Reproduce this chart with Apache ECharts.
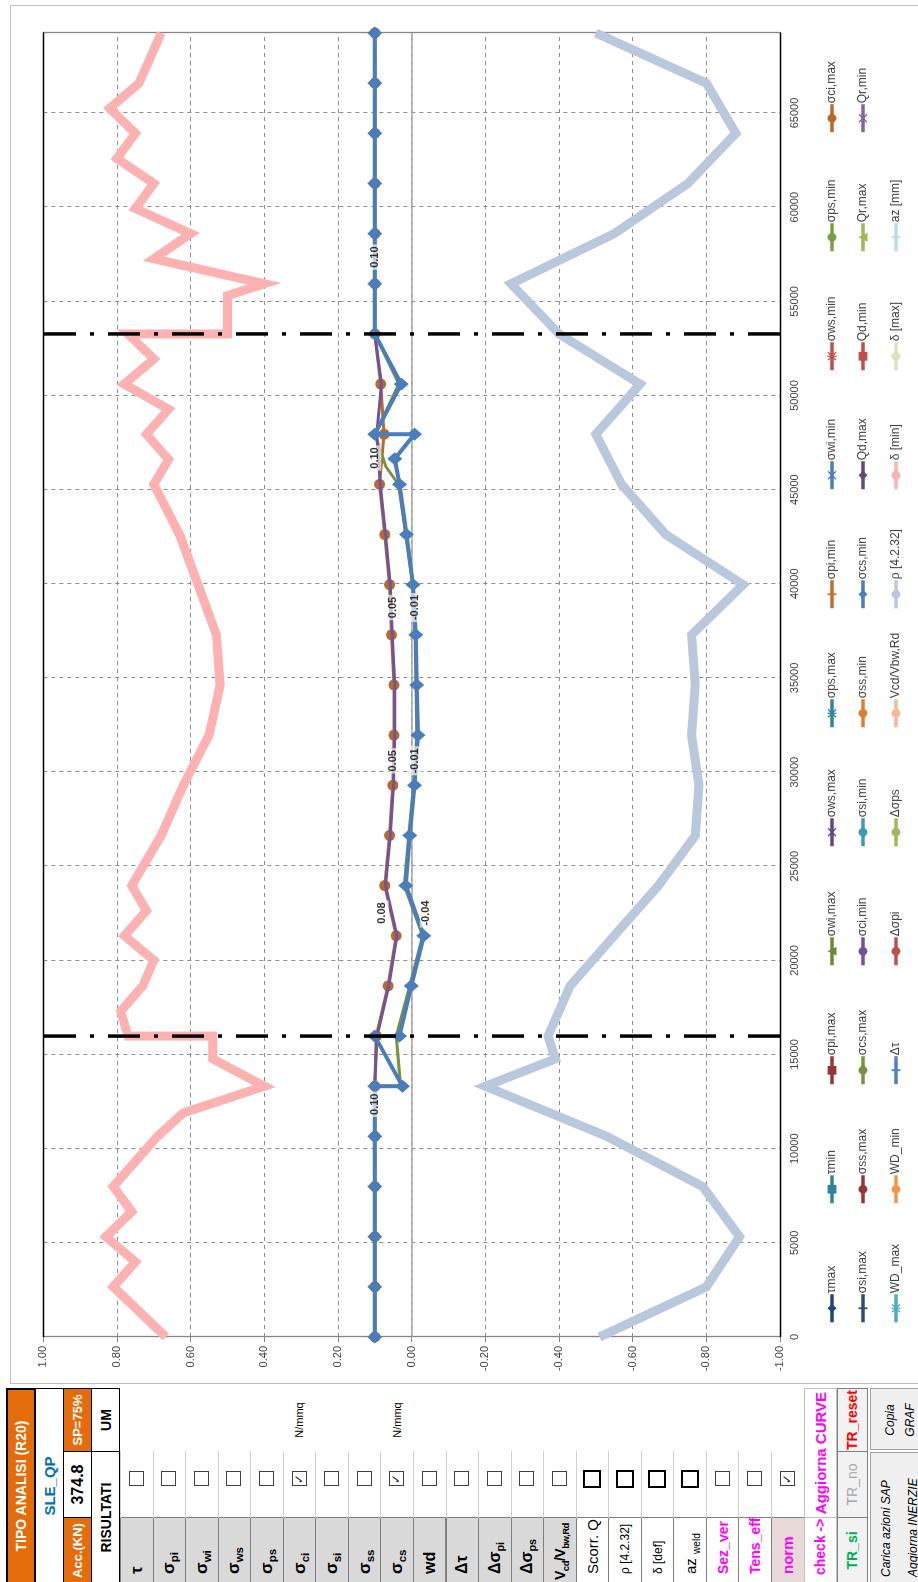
<!DOCTYPE html>
<html><head><meta charset="utf-8">
<script src="https://cdn.jsdelivr.net/npm/echarts@6/dist/echarts.min.js"></script>
<style>
html,body{margin:0;padding:0;width:918px;height:1582px;overflow:hidden;background:#fff;}
#page{position:absolute;left:0;top:0;width:1582px;height:918px;transform-origin:0 0;transform:translate(0,1582px) rotate(-90deg);background:#fff;overflow:hidden;font-family:"Liberation Sans","DejaVu Sans",sans-serif;}
#frame{position:absolute;left:198px;top:10px;width:1379px;height:940px;border:1px solid #BFBFBF;box-sizing:border-box;}
#chart{position:absolute;left:198px;top:10px;width:1379px;height:908px;}
.c{position:absolute;box-sizing:border-box;display:flex;align-items:center;overflow:hidden;white-space:nowrap;}
.cb{position:absolute;box-sizing:border-box;border:1.5px solid #404040;background:#fff;font-size:12px;line-height:12px;text-align:center;color:#222;}
sub{font-size:68%;vertical-align:-4px;line-height:0;}
</style></head>
<body>
<div id="page">
  <div id="table"></div>
  <div id="frame"></div>
  <div id="chart"></div>
</div>
<script>
// ---------------- DATA ----------------
const catTicks = [0, 5000, 10000, 15000, 20000, 25000, 30000, 35000, 40000, 45000, 50000, 55000, 60000, 65000];
const valTicks = [-1.0, -0.8, -0.6, -0.4, -0.2, 0.0, 0.2, 0.4, 0.6, 0.8, 1.0];
const catMax = 69251;
const dividers = [15981, 53270];

// δ [min] (thick pink)
const pinkX = [0, 2664, 3990, 5327, 6660, 7991, 10654, 11900, 13318, 14770, 15981, 15981, 17300, 18645, 20000, 21308, 22640, 23972, 26635, 29299, 31962, 34626, 37289, 39953, 42616, 45280, 46600, 47943, 49270, 50607, 51940, 53270, 53270, 55300, 55934, 57260, 58597, 59930, 61261, 62590, 63924, 65250, 66588, 69251];
const pinkY = [0.667, 0.81, 0.75, 0.83, 0.76, 0.81, 0.69, 0.62, 0.40, 0.54, 0.54, 0.77, 0.79, 0.73, 0.70, 0.78, 0.72, 0.76, 0.68, 0.62, 0.55, 0.52, 0.53, 0.58, 0.63, 0.70, 0.66, 0.72, 0.66, 0.78, 0.70, 0.77, 0.50, 0.50, 0.40, 0.70, 0.60, 0.75, 0.70, 0.80, 0.75, 0.82, 0.74, 0.68];
// ρ [4.2.32] (thick blue-grey)
const greyX = [0, 2664, 5327, 7991, 10654, 13318, 14770, 15981, 18645, 21308, 23972, 26635, 29299, 31962, 34626, 37289, 39953, 42616, 45280, 47943, 50607, 53270, 55934, 58597, 61261, 63924, 66588, 69251];
const greyY = [-0.51, -0.80, -0.89, -0.79, -0.53, -0.20, -0.39, -0.37, -0.43, -0.55, -0.67, -0.77, -0.78, -0.76, -0.77, -0.76, -0.90, -0.69, -0.57, -0.50, -0.62, -0.40, -0.27, -0.55, -0.75, -0.88, -0.80, -0.50];
// σci,max (orange circles)
const ciMaxX = [0, 2664, 5327, 7991, 10654, 13318, 15981, 18645, 21308, 23972, 26635, 29299, 31962, 34626, 37289, 39953, 42616, 45280, 47943, 50607, 53270, 55934, 58597, 61261, 63924, 66588, 69251];
const ciMaxY = [0.10, 0.10, 0.10, 0.10, 0.10, 0.10, 0.096, 0.064, 0.042, 0.073, 0.060, 0.051, 0.048, 0.048, 0.055, 0.060, 0.073, 0.087, 0.075, 0.084, 0.10, 0.10, 0.10, 0.10, 0.10, 0.10, 0.10];
// σci,min (purple)
const ciMinX = [0, 2664, 5327, 7991, 10654, 13318, 15981, 18645, 21308, 23972, 26635, 29299, 31962, 34626, 37289, 39953, 42616, 45280, 47943, 50607, 53270, 55934, 58597, 61261, 63924, 66588, 69251];
const ciMinY = [0.10, 0.10, 0.10, 0.10, 0.10, 0.10, 0.094, 0.062, 0.040, 0.071, 0.058, 0.049, 0.046, 0.046, 0.053, 0.058, 0.071, 0.085, 0.095, 0.082, 0.10, 0.10, 0.10, 0.10, 0.10, 0.10, 0.10];
// σcs,min (blue diamonds)
const csMinX = [0, 2664, 5327, 7991, 10654, 13318, 13318, 15981, 15981, 18645, 21308, 23972, 26635, 29299, 31962, 34626, 37289, 39953, 42616, 45280, 46640, 47943, 47943, 50607, 53270, 55934, 58597, 61261, 63924, 66588, 69251];
const csMinY = [0.10, 0.10, 0.10, 0.10, 0.10, 0.10, 0.025, 0.10, 0.033, 0.001, -0.033, 0.016, 0.005, -0.008, -0.017, -0.014, -0.011, -0.004, 0.014, 0.033, 0.046, -0.008, 0.10, 0.028, 0.10, 0.10, 0.10, 0.10, 0.10, 0.10, 0.10];
// σcs,max (green)
const csMaxX = [13318, 13318, 15981, 18645, 21308, 23972, 26635, 29299, 31962, 34626, 37289, 39953, 42616, 45280, 46230, 47943, 50607, 53270];
const csMaxY = [0.10, 0.03, 0.042, 0.005, -0.030, 0.020, 0.008, -0.005, -0.014, -0.012, -0.009, -0.002, 0.016, 0.036, 0.07, 0.10, 0.035, 0.10];
// data labels
const lblX = [12360, 22514, 22514, 38740, 38740, 30600, 30600, 46680, 57350];
const lblY = [0.10, 0.08, -0.04, 0.05, -0.01, 0.05, -0.01, 0.10, 0.10];

// legend entries (3 rows)
const legendRows = [
  ['τmax', 'τmin', 'σpi,max', 'σwi,max', 'σws,max', 'σps,max', 'σpi,min', 'σwi,min', 'σws,min', 'σps,min', 'σci,max'],
  ['σsi,max', 'σss,max', 'σcs,max', 'σci,min', 'σsi,min', 'σss,min', 'σcs,min', 'Qd,max', 'Qd,min', 'Qr,max', 'Qr,min'],
  ['WD_max', 'WD_min', 'Δτ', 'Δσpi', 'Δσps', 'Vcd/Vbw,Rd', 'ρ [4.2.32]', 'δ [min]', 'δ [max]', 'az [mm]']
];

// table texts
const rowLabels = ['τ', 'σ<sub>pi</sub>', 'σ<sub>wi</sub>', 'σ<sub>ws</sub>', 'σ<sub>ps</sub>', 'σ<sub>ci</sub>', 'σ<sub>si</sub>', 'σ<sub>ss</sub>', 'σ<sub>cs</sub>', 'wd', 'Δτ', 'Δσ<sub>pi</sub>', 'Δσ<sub>ps</sub>', 'V<sub>cd</sub>/V<sub>bw,Rd</sub>', 'Scorr. Q', 'ρ [4.2.32]', 'δ [def]', 'az <sub>weld</sub>', 'Sez_ver', 'Tens_eff', 'norm'];
const rowChecked = [0,0,0,0,0,1,0,0,1,0,0,0,0,0,0,0,0,0,0,0,1];
const rowUnit = ['', '', '', '', '', 'N/mmq', '', '', 'N/mmq', '', '', '', '', '', '', '', '', '', '', '', ''];

// ---------------- STYLES ----------------
const P_X = 'path://M0,1L1,0L5,4L9,0L10,1L6,5L10,9L9,10L5,6L1,10L0,9L4,5Z';
const P_AST = 'path://M0,1L1,0L5,4L9,0L10,1L6,5L10,9L9,10L5,6L1,10L0,9L4,5Z M4.3,0H5.7V10H4.3Z M0,4.3H10V5.7H0Z';
const P_PLUS = 'path://M4,0H6V4H10V6H6V10H4V6H0V4H4Z';
const styles = {
 'τmax':['#1F497D','diamond'], 'τmin':['#31849B','rect'], 'σpi,max':['#953735','rect'], 'σwi,max':['#6A8A33','triangle'],
 'σws,max':['#604A7B',P_X], 'σps,max':['#31859C',P_AST], 'σpi,min':['#C0702E',P_PLUS], 'σwi,min':['#4A7EBB',P_X],
 'σws,min':['#C0504D',P_AST], 'σps,min':['#77A043','circle'], 'σci,max':['#B9692A','circle'],
 'σsi,max':['#2C4D75',P_PLUS], 'σss,max':['#953735','none'], 'σcs,max':['#77933C','none'], 'σci,min':['#71539B',P_PLUS],
 'σsi,min':['#3D9AB4','none'], 'σss,min':['#E07C2E','none'], 'σcs,min':['#4A7EBB','diamond'], 'Qd,max':['#5F4A7B','diamond'],
 'Qd,min':['#C0504D','rect'], 'Qr,max':['#9BBB59','triangle'], 'Qr,min':['#8064A2',P_X],
 'WD_max':['#4BACC6',P_AST], 'WD_min':['#F79646','circle'], 'Δτ':['#4F81BD',P_PLUS], 'Δσpi':['#C0504D','none'],
 'Δσps':['#9BBB59','none'], 'Vcd/Vbw,Rd':['#FAB796','circle'], 'ρ [4.2.32]':['#B9C8DC',P_PLUS], 'δ [min]':['#FDB1B1','none'],
 'δ [max]':['#D7E4BD','none'], 'az [mm]':['#B7DEE8',P_PLUS]
};
const zip = (xs, ys) => xs.map((x, i) => [x, ys[i]]);
const seriesData = {
 'δ [min]': zip(pinkX, pinkY),
 'ρ [4.2.32]': zip(greyX, greyY),
 'σci,max': zip(ciMaxX, ciMaxY),
 'σcs,max': zip(csMaxX, csMaxY),
 'σci,min': zip(ciMinX, ciMinY),
 'σcs,min': zip(csMinX, csMinY)
};
const plotStyle = {
 'δ [min]': {width: 9, symbol: 'none', z: 2},
 'ρ [4.2.32]': {width: 9, symbol: 'none', z: 2},
 'σci,max': {width: 3, symbol: 'circle', size: 11, z: 4},
 'σcs,max': {width: 3, symbol: 'none', z: 5},
 'σci,min': {width: 3, symbol: 'none', z: 6},
 'σcs,min': {width: 4, symbol: 'diamond', size: [13, 15], z: 7}
};

// ---------------- TABLE ----------------
const tbl = document.getElementById('table');
function cell(x, y, w, h, html, css) {
  const d = document.createElement('div');
  d.className = 'c';
  d.style.cssText = `left:${x}px;top:${y}px;width:${w}px;height:${h}px;` + (css || '');
  d.innerHTML = html ? '<span>' + html + '</span>' : '';
  tbl.appendChild(d);
  return d;
}
const B = 'border:1px solid #000;';
const ORG = 'background:#E46C0A;color:#fff;font-weight:bold;justify-content:center;';
cell(-2, 6, 196, 30, 'TIPO ANALISI (R20)', B + ORG + 'font-size:14px;border-width:2px;');
cell(-2, 35, 196, 29, 'SLE_QP', B + 'color:#0070C0;font-weight:bold;font-size:15px;justify-content:center;');
cell(-2, 63, 67, 29, 'Acc.(KN)', B + ORG + 'font-size:13px;');
cell(64, 63, 67, 29, '374.8', B + 'font-weight:bold;font-size:16px;justify-content:center;');
cell(130, 63, 64, 29, 'SP=75%', B + ORG + 'font-size:13px;');
cell(-2, 91, 133, 29, 'RISULTATI', B + 'font-weight:bold;font-size:14px;justify-content:center;');
cell(130, 91, 64, 29, 'UM', B + 'font-weight:bold;font-size:14px;justify-content:center;');
const rowH = 32.55, row0 = 120;
const labelCss = [
 'font-size:17px;font-weight:bold;', 'font-size:17px;font-weight:bold;', 'font-size:17px;font-weight:bold;', 'font-size:17px;font-weight:bold;',
 'font-size:17px;font-weight:bold;', 'font-size:17px;font-weight:bold;', 'font-size:17px;font-weight:bold;', 'font-size:17px;font-weight:bold;',
 'font-size:17px;font-weight:bold;', 'font-size:16px;font-weight:bold;', 'font-size:16px;font-weight:bold;', 'font-size:16px;font-weight:bold;',
 'font-size:16px;font-weight:bold;', 'font-size:14px;font-weight:bold;letter-spacing:-0.5px;', 'font-size:15px;', 'font-size:12px;',
 'font-size:12px;', 'font-size:15px;', 'font-size:14px;font-weight:bold;', 'font-size:14px;font-weight:bold;', 'font-size:15px;font-weight:bold;'
];
rowLabels.forEach((lab, k) => {
  const y = row0 + k * rowH;
  let bg = k < 14 ? '#D9D9D9' : '#fff';
  let col = '#000';
  if (k >= 18) col = '#FF00FF';
  if (k === 20) bg = '#E9DADA';
  cell(-2, y, 67, rowH + 1, lab, `border:1px solid #7F7F7F;background:${bg};color:${col};padding-left:${k === 13 ? 3 : 9}px;` + labelCss[k]);
  cell(64, y, 67, rowH + 1, '', 'border-top:1px solid #D0D0D0;');
  const big = (k >= 14 && k <= 17);
  const s = big ? 18 : 15;
  const cb = document.createElement('div');
  cb.className = 'cb';
  cb.style.cssText = `left:${103 - s / 2}px;top:${y + rowH / 2 - s / 2}px;width:${s}px;height:${s}px;` + (big ? 'border-width:2px;border-color:#000;' : '');
  if (rowChecked[k]) cb.textContent = '✓';
  tbl.appendChild(cb);
  if (rowUnit[k]) cell(130, y, 64, rowH, rowUnit[k], 'font-size:11px;justify-content:center;');
});
const yEnd = row0 + rowLabels.length * rowH;
cell(-2, yEnd, 67, 33, 'check -&gt;', 'border:1px solid #BFBFBF;color:#FF00FF;font-weight:bold;font-size:14px;padding-left:8px;background:#fff;');
cell(64, yEnd, 130, 33, 'Aggiorna CURVE', 'border:1px solid #BFBFBF;color:#FF00FF;font-weight:bold;font-size:15px;justify-content:center;background:#fff;');
cell(-2, yEnd + 33, 67, 31, 'TR_si', 'border:1px solid #7F7F7F;color:#00B050;font-weight:bold;font-size:14px;justify-content:center;background:#F2F2F2;');
cell(64, yEnd + 33, 67, 31, 'TR_no', 'border:1px solid #7F7F7F;color:#A6A6A6;font-size:14px;justify-content:center;background:#F2F2F2;');
cell(130, yEnd + 33, 64, 31, 'TR_reset', 'border:1px solid #7F7F7F;color:#FF0000;font-weight:bold;font-size:14px;justify-content:center;background:#F2F2F2;');
cell(-2, yEnd + 66, 132, 60, '<div style="line-height:27px;padding-left:6px">Carica azioni SAP<br>Aggiorna INERZIE</div>', 'border:1px solid #A0A0A0;font-style:italic;font-size:12px;background:#F0F0F0;');
cell(132, yEnd + 66, 62, 60, '<div style="line-height:20px;text-align:center;width:58px">Copia<br>GRAF</div>', 'border:1px solid #A0A0A0;font-style:italic;font-size:12px;background:#F0F0F0;');

// ---------------- CHART ----------------
const chart = echarts.init(document.getElementById('chart'), null, {renderer: 'canvas'});
const FONT = '"Liberation Sans","DejaVu Sans",sans-serif';
const allNames = legendRows.flat();
const series = [];
series.push({
  name: '_zero', type: 'line', data: [], silent: true, z: 1,
  markLine: {silent: true, symbol: ['none', 'none'], label: {show: false},
    lineStyle: {color: '#A6A6A6', type: 'solid', width: 1.5}, data: [{yAxis: 0}]}
});
allNames.forEach(n => {
  const st = styles[n], ps = plotStyle[n] || {};
  series.push({
    name: n, type: 'line', data: seriesData[n] || [],
    symbol: ps.symbol || st[1], symbolSize: ps.size || 9, showSymbol: true,
    color: st[0], z: ps.z || 3, animation: false,
    lineStyle: {color: st[0], width: ps.width || 3, join: 'miter', cap: 'butt'},
    itemStyle: {color: st[0]}
  });
});
dividers.forEach((d, i) => {
  series.push({
    name: '_div' + i, type: 'line', data: [[d, -1], [d, 1]], symbol: 'none', z: 8, animation: false,
    lineStyle: {color: '#000', width: 3.5, type: [32, 14, 4, 14], cap: 'butt'}
  });
});
series.push({
  name: '_labels', type: 'scatter', data: zip(lblX, lblY), symbolSize: 1, z: 9, animation: false,
  itemStyle: {color: 'rgba(0,0,0,0)'},
  label: {show: true, position: 'inside', formatter: p => p.value[1].toFixed(2), fontFamily: FONT,
    fontSize: 11, fontWeight: 'bold', color: '#000', backgroundColor: 'rgba(255,255,255,0.8)', padding: [1, 2]}
});

const legends = [];
const rowTop = [832, 863, 896];
legendRows.forEach((row, r) => row.forEach((n, k) => {
  legends.push({
    data: [n], left: 60 + k * 119, top: rowTop[r] - 10 - 6, itemWidth: 28, itemHeight: 11, itemGap: 0,
    padding: 0, selectedMode: false,
    textStyle: {fontFamily: FONT, fontSize: 12, color: '#404040', padding: [0, 0, 0, -4]},
    lineStyle: {width: 3.5}
  });
}));

const option = {
  animation: false,
  backgroundColor: 'transparent',
  grid: {left: 47, top: 33.3, width: 1304, height: 736.7, containLabel: false},
  legend: legends,
  xAxis: [{
    type: 'value', min: 0, max: catMax, interval: 5000, position: 'bottom',
    axisLine: {show: true, onZero: false, lineStyle: {color: '#000', width: 1.3}},
    axisTick: {show: false},
    axisLabel: {color: '#404040', fontFamily: FONT, fontSize: 11, margin: 9, showMaxLabel: false,
      formatter: v => (catTicks.includes(v) ? String(v) : '')},
    splitLine: {show: true, lineStyle: {color: '#8C8C8C', type: [4, 4], width: 1}}
  }, {
    type: 'value', min: 0, max: catMax, position: 'top',
    axisLine: {show: true, onZero: false, lineStyle: {color: '#000', width: 1.3}},
    axisTick: {show: false}, axisLabel: {show: false}, splitLine: {show: false}
  }],
  yAxis: [{
    type: 'value', min: -1, max: 1, interval: 0.2, position: 'left',
    axisLine: {show: true, onZero: false, lineStyle: {color: '#868686', width: 1.3}},
    axisTick: {show: true, length: 5, lineStyle: {color: '#868686'}},
    axisLabel: {color: '#404040', fontFamily: FONT, fontSize: 11, margin: 9,
      formatter: v => { const t = valTicks.find(x => Math.abs(x - v) < 1e-6); return t === undefined ? '' : t.toFixed(2); }},
    splitLine: {show: true, lineStyle: {color: '#8C8C8C', type: [4, 4], width: 1}}
  }, {
    type: 'value', min: -1, max: 1, position: 'right',
    axisLine: {show: true, onZero: false, lineStyle: {color: '#868686', width: 1.3}},
    axisTick: {show: false}, axisLabel: {show: false}, splitLine: {show: false}
  }],
  series: series
};
chart.setOption(option);
</script>
</body></html>
